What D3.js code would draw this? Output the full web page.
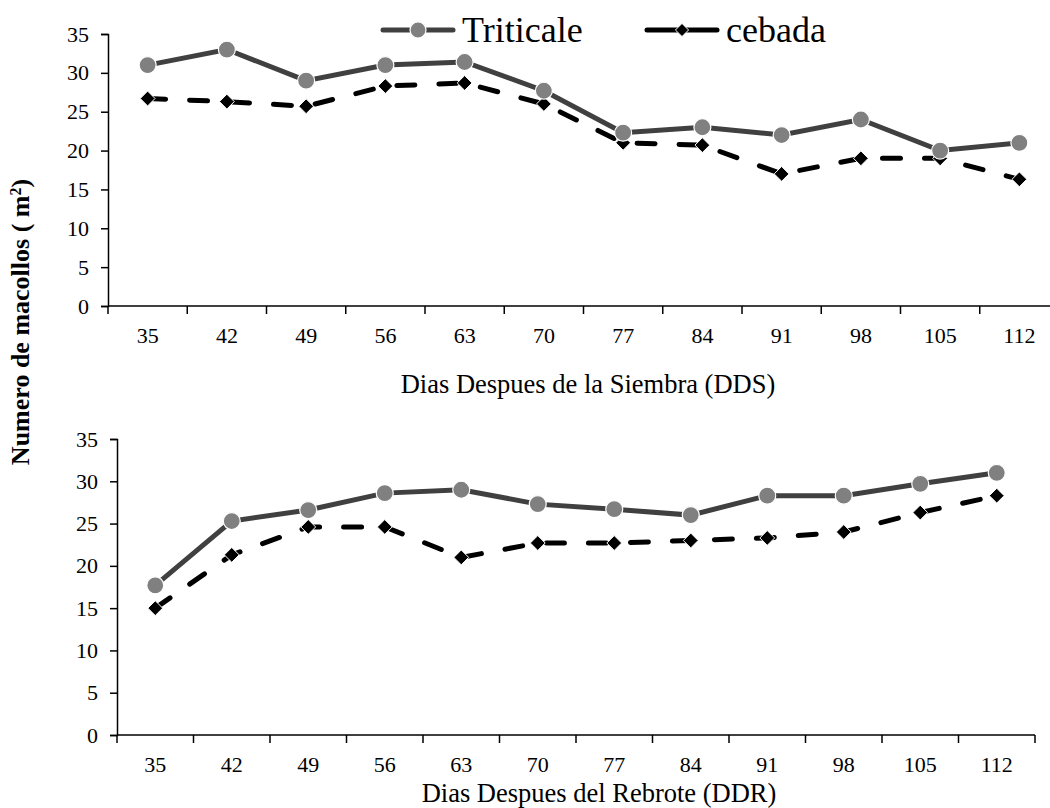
<!DOCTYPE html>
<html>
<head>
<meta charset="utf-8">
<script src="https://cdn.jsdelivr.net/npm/d3@7"></script>
<style>
  body { margin: 0; background: #fff; }
  svg text { font-family: "Liberation Serif", "Times New Roman", serif; fill: #000; }
  .axis path, .axis line { stroke: #000; stroke-width: 1.5px; }
</style>
</head>
<body>
<div id="chart-container"></div>
<script>
// days after sowing / regrowth (same labels for both panels)
var days = ['35', '42', '49', '56', '63', '70', '77', '84', '91', '98', '105', '112'];
var yTicks = [0, 5, 10, 15, 20, 25, 30, 35];

// top panel: Dias Despues de la Siembra
var triticaleDDS = [31, 33, 29, 31, 31.4, 27.7, 22.3, 23, 22, 24, 20, 21];
var cebadaDDS = [26.7, 26.3, 25.7, 28.3, 28.7, 26, 21, 20.7, 17, 19, 19, 16.3];

// bottom panel: Dias Despues del Rebrote
var triticaleDDR = [17.7, 25.3, 26.6, 28.6, 29, 27.3, 26.7, 26, 28.3, 28.3, 29.7, 31];
var cebadaDDR = [15, 21.3, 24.6, 24.6, 21, 22.7, 22.7, 23, 23.3, 24, 26.3, 28.3];

var width = 1050, height = 808;

var svg = d3.select("#chart-container").append("svg")
  .attr("width", width)
  .attr("height", height)
  .attr("font-family", "'Liberation Serif', 'Times New Roman', serif");

// one panel = axes + two series
function drawPanel(opts) {
  var x = d3.scaleBand().domain(days).range([opts.left, opts.right]);
  var y = d3.scaleLinear().domain([0, 35]).range([opts.bottom, opts.top]);

  var g = svg.append("g");

  // y axis
  var yAxis = d3.axisLeft(y).tickValues(yTicks).tickSize(7).tickPadding(12);
  g.append("g")
    .attr("class", "y axis")
    .attr("transform", "translate(" + opts.left + ",0)")
    .call(yAxis)
    .attr("font-family", null)
    .call(function(s) { s.selectAll("text").style("font-size", "22px"); });

  // x axis, ticks sit on the band edges (Excel style)
  var xg = g.append("g")
    .attr("class", "x axis")
    .attr("transform", "translate(0," + opts.bottom + ")");
  xg.append("line")
    .attr("x1", opts.left).attr("x2", opts.axisEnd)
    .attr("y1", 0).attr("y2", 0);
  var edges = days.map(function(d) { return x(d); }).concat([x.range()[1]]);
  xg.selectAll(".tk").data(edges).enter().append("line")
    .attr("class", "tk")
    .attr("x1", function(d) { return d; }).attr("x2", function(d) { return d; })
    .attr("y1", 0).attr("y2", 8);
  xg.selectAll(".lbl").data(days).enter().append("text")
    .attr("class", "lbl")
    .attr("x", function(d) { return x(d) + x.bandwidth() / 2; })
    .attr("y", opts.labelY - opts.bottom)
    .attr("text-anchor", "middle")
    .style("font-size", "22px")
    .text(function(d) { return d; });

  // axis title
  g.append("text")
    .attr("x", opts.titleX)
    .attr("y", opts.titleY)
    .attr("text-anchor", "middle")
    .style("font-size", "26.5px")
    .text(opts.title);

  var cx = function(d, i) { return x(days[i]) + x.bandwidth() / 2; };
  var line = d3.line().x(cx).y(function(d) { return y(d); });

  // cebada - black dashed with diamonds
  g.append("path")
    .datum(opts.cebada)
    .attr("d", line)
    .attr("fill", "none")
    .attr("stroke", "#000")
    .attr("stroke-width", 5)
    .attr("stroke-linecap", "round")
    .attr("stroke-dasharray", "18,24");
  g.selectAll(".dia").data(opts.cebada).enter().append("path")
    .attr("class", "dia")
    .attr("d", d3.symbol().type(d3.symbolDiamond2).size(140))
    .attr("transform", function(d, i) { return "translate(" + cx(d, i) + "," + y(d) + ")"; })
    .attr("fill", "#000")
    .attr("stroke", "#fff")
    .attr("stroke-width", 1);

  // triticale - dark grey solid with grey circles
  g.append("path")
    .datum(opts.triticale)
    .attr("d", line)
    .attr("fill", "none")
    .attr("stroke", "#404040")
    .attr("stroke-width", 5);
  g.selectAll(".dot").data(opts.triticale).enter().append("circle")
    .attr("class", "dot")
    .attr("cx", cx)
    .attr("cy", function(d) { return y(d); })
    .attr("r", 8.5)
    .attr("fill", "#808080")
    .attr("stroke", "#fff")
    .attr("stroke-width", 1.2);
}

drawPanel({
  left: 108, right: 1059, axisEnd: 1059, top: 34, bottom: 306, labelY: 343,
  title: "Dias Despues de la Siembra (DDS)", titleX: 588, titleY: 393,
  triticale: triticaleDDS, cebada: cebadaDDS
});

drawPanel({
  left: 117, right: 1035, axisEnd: 1035, top: 439, bottom: 735, labelY: 772,
  title: "Dias Despues del Rebrote (DDR)", titleX: 599, titleY: 802,
  triticale: triticaleDDR, cebada: cebadaDDR
});

// shared y title
var yTitle = svg.append("text")
  .attr("transform", "translate(29,322) rotate(-90)")
  .attr("text-anchor", "middle")
  .style("font-size", "26px")
  .style("font-weight", "bold");
yTitle.append("tspan").text("Numero de macollos ( m");
yTitle.append("tspan").attr("baseline-shift", "super").style("font-size", "16px").text("2");
yTitle.append("tspan").text(")");

// legend
var legend = [
  { name: "Triticale", x: 383, stroke: "#404040", mark: "circle" },
  { name: "cebada", x: 647, stroke: "#000", mark: "diamond" }
];
var lg = svg.selectAll(".legend").data(legend).enter().append("g")
  .attr("class", "legend")
  .attr("transform", function(d) { return "translate(" + d.x + ",30)"; });
lg.append("line")
  .attr("x1", 0).attr("x2", 70).attr("y1", 0).attr("y2", 0)
  .attr("stroke", function(d) { return d.stroke; })
  .attr("stroke-width", 5)
  .attr("stroke-linecap", "round");
lg.filter(function(d) { return d.mark == "circle"; }).append("circle")
  .attr("cx", 35).attr("r", 8).attr("fill", "#808080").attr("stroke", "#fff").attr("stroke-width", 1.2);
lg.filter(function(d) { return d.mark == "diamond"; }).append("path")
  .attr("d", d3.symbol().type(d3.symbolDiamond2).size(110))
  .attr("transform", "translate(35,0)")
  .attr("fill", "#000").attr("stroke", "#fff").attr("stroke-width", 1);
lg.append("text")
  .attr("x", 79).attr("y", 12)
  .style("font-size", "36px")
  .text(function(d) { return d.name; });
</script>
</body>
</html>
